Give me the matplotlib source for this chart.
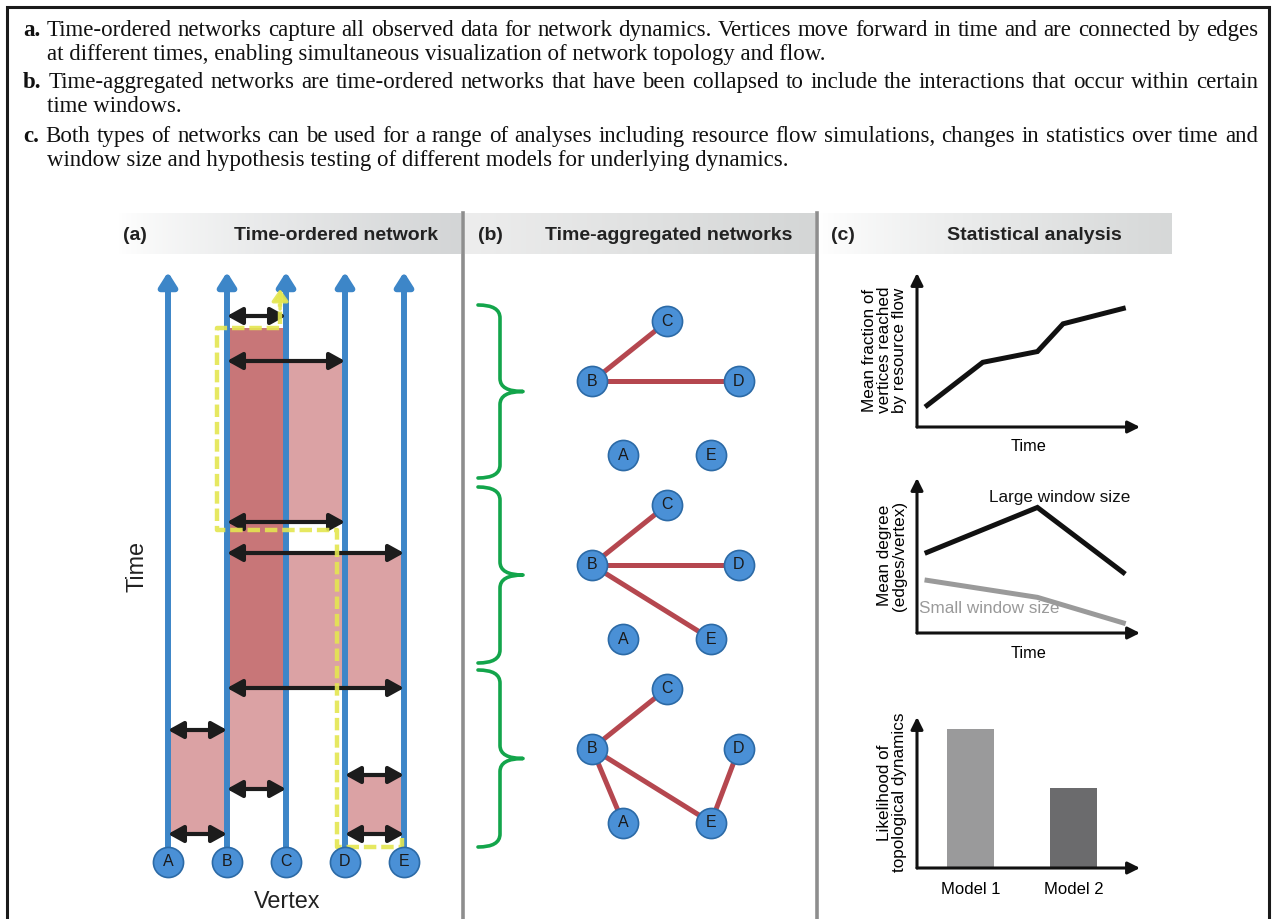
import numpy as np
import matplotlib
matplotlib.use("Agg")
import matplotlib.pyplot as plt
from matplotlib.path import Path
from matplotlib.patches import PathPatch
from matplotlib.colors import to_rgb

W, H, DPI = 1272, 919, 100
SANS = ["Liberation Sans", "DejaVu Sans"]
SERIF = ["Liberation Serif", "DejaVu Serif"]

# === caption ===
caption_labels = ["a.", "b.", "c."]
caption_first = [
    "Time-ordered networks capture all observed data for network dynamics. Vertices move forward in time and are connected by edges",
    "Time-aggregated networks are time-ordered networks that have been collapsed to include the interactions that occur within certain",
    "Both types of networks can be used for a range of analyses including resource flow simulations, changes in statistics over time and",
]
caption_second = [
    "at different times, enabling simultaneous visualization of network topology and flow.",
    "time windows.",
    "window size and hypothesis testing of different models for underlying dynamics.",
]

# === panel (a): time-ordered network ===
vertices = ["A", "B", "C", "D", "E"]
t_top = 59.0
contact_t = [54.6, 50.1, 34.0, 30.9, 17.4, 13.2, 8.7, 7.3, 2.8, 2.8]
contact_pair = [("B", "C"), ("B", "D"), ("B", "D"), ("B", "E"), ("B", "E"),
                ("A", "B"), ("D", "E"), ("B", "C"), ("A", "B"), ("D", "E")]
# shaded spans: (from, to, t_start, t_end, dark?)
span_pair = [("B", "C"), ("C", "D"), ("C", "E"), ("B", "C"), ("A", "B"), ("D", "E")]
span_t0 = [17.4, 34.0, 17.4, 7.3, 2.8, 2.8]
span_t1 = [53.4, 50.1, 30.9, 17.4, 13.2, 8.7]
span_dark = [True, False, False, False, False, False]
# resource flow path (vertex coordinate, time)
flow_vx = [3.97, 3.97, 2.86, 2.86, 0.83, 0.83, 1.90, 1.90]
flow_tt = [2.4, 1.5, 1.5, 33.2, 33.2, 53.4, 53.4, 55.8]
flow_tip = 57.3

# === panel (b): time-aggregated networks ===
windows_t0 = [38.4, 19.9, 1.5]
windows_t1 = [55.7, 37.5, 19.2]
window_edges = [
    [("B", "C"), ("B", "D")],
    [("B", "C"), ("B", "D"), ("B", "E")],
    [("B", "C"), ("B", "A"), ("B", "E"), ("E", "D")],
]
layout_x = {"A": 623, "B": 592, "C": 667, "D": 739, "E": 711}
layout_dt = {"A": -7.4, "B": 0.0, "C": 6.0, "D": 0.0, "E": -7.4}

# === panel (c): statistical analysis ===
flow_time = [0.45, 2.95, 5.4, 6.55, 9.25]
flow_frac = [0.14, 0.42, 0.49, 0.67, 0.77]
deg_time = [0.45, 5.4, 9.25]
deg_large = [0.52, 0.81, 0.39]
deg_small = [0.34, 0.23, 0.065]
models = ["Model 1", "Model 2"]
likelihood = [0.92, 0.53]

BLUE = "#3d86c8"
NODE = "#4a90d6"
NODE_EDGE = "#2c6aa6"
PINK = "#dba2a4"
PINK_DARK = "#c87678"
ARROW = "#1c1c1c"
EDGE_RED = "#b5474f"
GREEN = "#13a54b"
YELLOW = "#e4e650"

fig = plt.figure(figsize=(W / DPI, H / DPI), dpi=DPI)
bg = fig.add_axes([0, 0, 1, 1])
bg.axis("off")


def px_axes(x0, y0, x1, y1):
    ax = fig.add_axes([x0 / W, 1 - y1 / H, (x1 - x0) / W, (y1 - y0) / H])
    ax.patch.set_alpha(0)
    return ax


def gradient_box(x0, x1, y0, y1, c0, c1, gamma=1.0):
    t = np.linspace(0, 1, 256) ** gamma
    a, b = np.array(to_rgb(c0)), np.array(to_rgb(c1))
    img = (a[None, :] * (1 - t[:, None]) + b[None, :] * t[:, None])[None, :, :]
    bg.imshow(img, extent=(x0, x1, y1, y0), aspect="auto", zorder=0,
              interpolation="bilinear")


# frame
bg.plot([7, 7, 1269, 1269], [H + 5, 7, 7, H + 5], color="#1a1a1a", lw=2.2,
        solid_joinstyle="miter")

# caption, first lines justified
renderer = fig.canvas.get_renderer()
CAP_FS = 16.5
baselines = [(36, 60), (88, 112), (142, 166)]
for lab, l1, l2, (yb1, yb2) in zip(caption_labels, caption_first, caption_second, baselines):
    words = [lab] + l1.split(" ")
    arts = []
    for k, w in enumerate(words):
        arts.append(bg.text(0, yb1, w, fontsize=CAP_FS, family=SERIF, va="baseline",
                            fontweight="bold" if k == 0 else "normal", color="#111"))
    widths = [a.get_window_extent(renderer).width for a in arts]
    gap = (1258 - 23 - sum(widths)) / (len(words) - 1)
    x = 23
    for a, wd in zip(arts, widths):
        a.set_x(x)
        x += wd + gap
    bg.text(47, yb2, l2, fontsize=CAP_FS, family=SERIF, va="baseline", color="#111")

# headers
gradient_box(118, 461, 213, 254, "#ffffff", "#d3d5d6", 0.8)
gradient_box(465, 815, 213, 254, "#ededed", "#d4d6d6", 1.0)
gradient_box(819, 1172, 213, 254, "#ffffff", "#d6d8d8", 0.8)
for tag, title, xt, xc in [("(a)", "Time-ordered network", 135, 336),
                           ("(b)", "Time-aggregated networks", 490, 669),
                           ("(c)", "Statistical analysis", 843, 1034)]:
    bg.text(xt, 235, tag, fontsize=14, fontweight="bold", family=SANS,
            ha="center", va="center", color="#222")
    bg.text(xc, 235, title, fontsize=14, fontweight="bold", family=SANS,
            ha="center", va="center", color="#222")

# panel dividers
for xd in (463, 817):
    bg.plot([xd, xd], [213, H + 5], color="#8e8e8e", lw=2.6)

bg.text(137, 567, "Time", rotation=90, fontsize=16.8, family=SANS,
        ha="center", va="center", color="#222")
bg.text(287, 902, "Vertex", fontsize=16.8, family=SANS,
        ha="center", va="center", color="#222")
bg.set_xlim(0, W)
bg.set_ylim(H, 0)

# ---- panel (a)
vidx = {v: i for i, v in enumerate(vertices)}
axA = px_axes(110, 255, 460, 885)
axA.set_xlim((110 - 168) / 59, (460 - 168) / 59)
axA.set_ylim(-2.3, 60.7)
axA.axis("off")

for (p, q), t0, t1, dark in zip(span_pair, span_t0, span_t1, span_dark):
    axA.fill_between([vidx[p], vidx[q]], t0, t1, color=PINK_DARK if dark else PINK,
                     lw=0, zorder=1)

for i in range(len(vertices)):
    axA.annotate("", xy=(i, t_top), xytext=(i, 0),
                 arrowprops=dict(arrowstyle="-|>,head_length=0.6,head_width=0.38",
                                 lw=4.3, color=BLUE, shrinkA=0, shrinkB=0,
                                 mutation_scale=14), zorder=2)

for t, (p, q) in zip(contact_t, contact_pair):
    axA.annotate("", xy=(vidx[q], t), xytext=(vidx[p], t),
                 arrowprops=dict(arrowstyle="<|-|>,head_length=0.65,head_width=0.36",
                                 lw=3.0, color=ARROW, shrinkA=0, shrinkB=0,
                                 mutation_scale=14), zorder=3)

axA.plot(flow_vx, flow_tt, color=YELLOW, lw=3.2, dashes=(2.8, 1.1), alpha=0.9,
         zorder=4, solid_capstyle="butt")
axA.annotate("", xy=(flow_vx[-1], flow_tip), xytext=(flow_vx[-1], flow_tt[-1] - 0.5),
             arrowprops=dict(arrowstyle="-|>,head_length=0.5,head_width=0.35",
                             lw=2.5, color=YELLOW, shrinkA=0, shrinkB=0,
                             mutation_scale=14, alpha=0.9), zorder=4)

xs = np.arange(len(vertices))
axA.scatter(xs, np.zeros(len(xs)), s=470, color=NODE, edgecolor=NODE_EDGE,
            lw=1.2, zorder=6, clip_on=False)
for i, v in enumerate(vertices):
    axA.text(i, 0, v, fontsize=11.5, family=SANS, ha="center", va="center",
             color="#1a1a1a", zorder=7)

# ---- panel (b)
axB = px_axes(465, 255, 815, 885)
axB.set_xlim(465, 815)
axB.set_ylim(-2.3, 60.7)
axB.axis("off")


def brace(ax, x_end, x_spine, x_tip, t_top, t_bot, r=1.3):
    t_mid = (t_top + t_bot) / 2
    verts = [(x_end, t_top), (x_spine, t_top), (x_spine, t_top - r),
             (x_spine, t_mid + r),
             (x_spine, t_mid), (x_tip, t_mid),
             (x_spine, t_mid), (x_spine, t_mid - r),
             (x_spine, t_bot + r),
             (x_spine, t_bot), (x_end, t_bot)]
    codes = [Path.MOVETO, Path.CURVE3, Path.CURVE3, Path.LINETO,
             Path.CURVE3, Path.CURVE3, Path.CURVE3, Path.CURVE3,
             Path.LINETO, Path.CURVE3, Path.CURVE3]
    ax.add_patch(PathPatch(Path(verts, codes), fill=False, edgecolor=GREEN,
                           lw=2.6, capstyle="round", joinstyle="round"))


for t0, t1, edges in zip(windows_t0, windows_t1, window_edges):
    brace(axB, 478, 500, 523, t1, t0)
    tc = (t0 + t1) / 2 + 1.0
    for p, q in edges:
        axB.plot([layout_x[p], layout_x[q]], [tc + layout_dt[p], tc + layout_dt[q]],
                 color=EDGE_RED, lw=3.6, zorder=2, solid_capstyle="butt")
    axB.scatter([layout_x[v] for v in vertices], [tc + layout_dt[v] for v in vertices],
                s=470, color=NODE, edgecolor=NODE_EDGE, lw=1.2, zorder=3)
    for v in vertices:
        axB.text(layout_x[v], tc + layout_dt[v], v, fontsize=11.5, family=SANS,
                 ha="center", va="center", color="#1a1a1a", zorder=4)


# ---- panel (c)
def arrow_axes(ax):
    for s in ax.spines.values():
        s.set_visible(False)
    ax.set_xticks([])
    ax.set_yticks([])
    kw = dict(arrowstyle="-|>,head_length=0.6,head_width=0.3", lw=2.2, color="#111",
              shrinkA=0, shrinkB=0, mutation_scale=12)
    ax.annotate("", xy=(1, 0), xytext=(0, 0), xycoords="axes fraction", arrowprops=kw)
    ax.annotate("", xy=(0, 1), xytext=(0, 0), xycoords="axes fraction", arrowprops=kw)


c1 = px_axes(917, 273, 1140, 427)
arrow_axes(c1)
c1.set_xlim(0, 10)
c1.set_ylim(0, 1)
c1.plot(flow_time, flow_frac, color="#111", lw=3.6, solid_joinstyle="miter")
c1.set_xlabel("Time", fontsize=11.7, family=SANS, labelpad=9)
c1.set_ylabel("Mean fraction of\nvertices reached\nby resource flow", fontsize=12.3,
              family=SANS, labelpad=7, linespacing=1.0)

c2 = px_axes(917, 478, 1140, 633)
arrow_axes(c2)
c2.set_xlim(0, 10)
c2.set_ylim(0, 1)
c2.plot(deg_time, deg_large, color="#111", lw=3.6, solid_joinstyle="miter")
c2.plot(deg_time, deg_small, color="#9a9a9a", lw=3.6, solid_joinstyle="miter")
c2.text(3.23, 0.877, "Large window size", fontsize=12.3, family=SANS,
        va="center", color="#111")
c2.text(0.09, 0.155, "Small window size", fontsize=12.3, family=SANS,
        va="center", color="#9a9a9a")
c2.set_xlabel("Time", fontsize=11.7, family=SANS, labelpad=9)
c2.set_ylabel("Mean degree\n(edges/vertex)", fontsize=12.3, family=SANS,
              labelpad=7, linespacing=1.0)

c3 = px_axes(917, 717, 1140, 868)
arrow_axes(c3)
c3.set_xlim(-0.517, 1.638)
c3.set_ylim(0, 1)
c3.bar(np.arange(len(models)), likelihood, width=0.454,
       color=["#9a9a9b", "#6b6b6d"], zorder=0)
c3.set_xticks(np.arange(len(models)), models, fontsize=12, family=SANS)
c3.tick_params(axis="x", length=0, pad=10)
c3.set_ylabel("Likelihood of\ntopological dynamics", fontsize=12.3, family=SANS,
              labelpad=7, linespacing=1.0)

fig.savefig("out.png", dpi=DPI)
